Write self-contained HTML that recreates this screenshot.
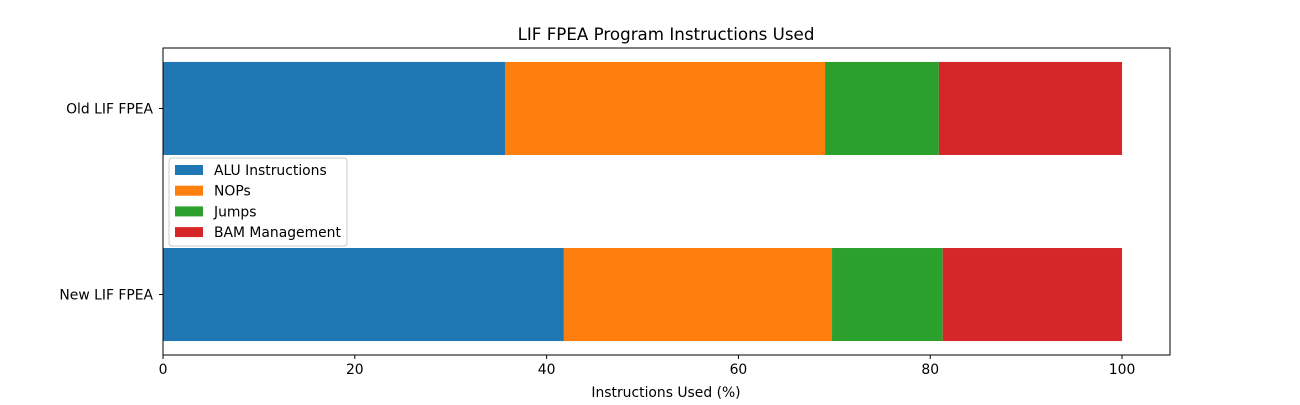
<!DOCTYPE html>
<html><head><meta charset="utf-8"><style>
body{margin:0;background:#fff;}
svg text{font-family:"DejaVu Sans","Liberation Sans",sans-serif;}
</style></head><body>
<svg id="chart" width="1300" height="400" xmlns="http://www.w3.org/2000/svg">
<rect width="1300" height="400" fill="#fff"/>
<text x="666" y="40" font-size="16.7" text-anchor="middle">LIF FPEA Program Instructions Used</text>
<g id="bars"></g>
<g id="axes"></g>
<text x="666" y="397" font-size="13.9" text-anchor="middle">Instructions Used (%)</text>
<g id="legend"></g>
</svg>
<script>
const categories = ["Old LIF FPEA", "New LIF FPEA"];
const seriesNames = ["ALU Instructions", "NOPs", "Jumps", "BAM Management"];
const colors = ["#1f77b4", "#ff7f0e", "#2ca02c", "#d62728"];
const aluValues = [35.66, 41.8];
const nopValues = [33.37, 27.96];
const jumpValues = [11.87, 11.54];
const bamValues = [19.1, 18.7];
const xTicks = [0, 20, 40, 60, 80, 100];

const series = [aluValues, nopValues, jumpValues, bamValues];
const NS = "http://www.w3.org/2000/svg";
const L = 163, R = 1170, T = 48, B = 355;
const xMin = 0, xMax = 105, yMin = -0.325, yMax = 1.325;
const xs = v => L + (v - xMin) / (xMax - xMin) * (R - L);
const ys = v => B - (v - yMin) / (yMax - yMin) * (B - T);
function mk(tag, attrs, parent) { const e = document.createElementNS(NS, tag); for (const k in attrs) e.setAttribute(k, attrs[k]); parent.appendChild(e); return e; }

const bars = document.getElementById('bars');
categories.forEach((c, i) => {
  const yc = categories.length - 1 - i;
  let acc = 0;
  series.forEach((s, j) => {
    const x0 = xs(acc), x1 = xs(acc + s[i]);
    const r = mk('rect', {x: x0, y: ys(yc + 0.25), width: x1 - x0, height: ys(yc - 0.25) - ys(yc + 0.25), fill: colors[j]}, bars);
    
    
    acc += s[i];
  });
});

const axes = document.getElementById('axes');
const frame = mk('rect', {x: L, y: T, width: R - L, height: B - T, fill: 'none', stroke: '#000', 'stroke-width': 1}, axes);


xTicks.forEach(t => {
  const x = xs(t);
  mk('line', {x1: x, x2: x, y1: B, y2: B + 4, stroke: '#000'}, axes);
  const tx = mk('text', {x: x, y: B + 19, 'font-size': 13.9, 'text-anchor': 'middle'}, axes);
  tx.textContent = t;
  
  
});
categories.forEach((c, i) => {
  const y = ys(categories.length - 1 - i);
  mk('line', {x1: L - 4, x2: L, y1: y, y2: y, stroke: '#000'}, axes);
  const tx = mk('text', {x: L - 10, y: y + 5, 'font-size': 13.9, 'text-anchor': 'end'}, axes);
  tx.textContent = c;
  
  
});

const lg = document.getElementById('legend');
const box = mk('rect', {x: 169, y: 158, width: 178, height: 88, rx: 3, fill: '#fff', 'fill-opacity': 0.8, stroke: '#ccc'}, lg);


seriesNames.forEach((n, j) => {
  const y = 170 + j * 20.7;
  const p = mk('rect', {x: 175, y: y - 5, width: 28, height: 10, fill: colors[j]}, lg);
  
  
  const t = mk('text', {x: 214, y: y + 5, 'font-size': 13.9}, lg);
  t.textContent = n;
  
  
});
</script>
</body></html>
